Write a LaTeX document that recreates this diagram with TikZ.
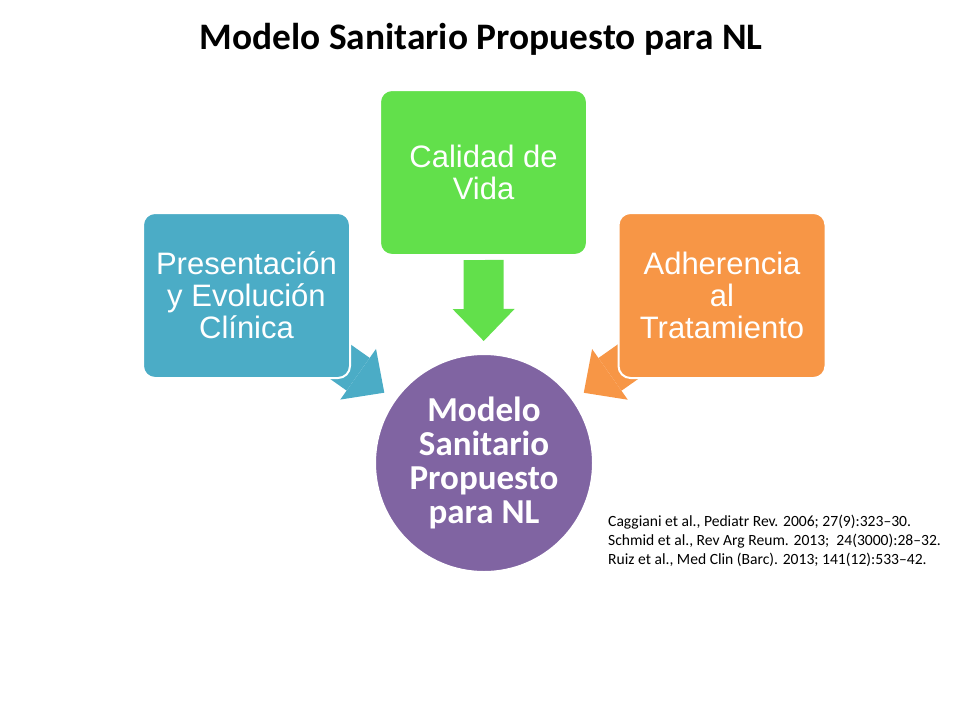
\documentclass[tikz,border=0pt]{standalone}
\usepackage{fontspec}
\setmainfont{Carlito}
\newfontfamily\arialfont{Liberation Sans}
\usetikzlibrary{arrows.meta, positioning, backgrounds}
\definecolor{boxblue}{HTML}{4BACC6}
\definecolor{boxgreen}{HTML}{62E04B}
\definecolor{boxorange}{HTML}{F79646}
\definecolor{circpurple}{HTML}{8064A2}

\begin{document}
\begin{tikzpicture}[x=1pt, y=-1pt,
  topic/.style={draw=white, line width=2pt, rounded corners=12pt, inner sep=0pt,
    minimum width=207pt, minimum height=165pt, align=center, text=white,
    font=\arialfont\fontsize{31}{32}\selectfont},
  bigarrow/.style={line width=40pt, -{Triangle[length=32pt, width=62pt, line width=0pt]},
    shorten >=12pt}]
\useasboundingbox (0,0) rectangle (960,720);
\node (title) at (481,39) {\fontsize{37.4}{40}\selectfont\bfseries Modelo Sanitario Propuesto para NL};

\node (circ) [circle, fill=circpurple, draw=white, line width=2pt, inner sep=0pt,
  minimum size=218pt, align=center, text=white, font=\fontsize{35}{34}\selectfont\bfseries]
  at (484,463) {Modelo\\ Sanitario\\ Propuesto\\ para NL};
\node (green) [topic, fill=boxgreen] at (483.5,172.5) {Calidad de\\ Vida};
\node (blue) [topic, fill=boxblue] at (246.5,295.5) {Presentación\\ y Evolución\\ Clínica};
\node (orange) [topic, fill=boxorange] at (722,295.5) {Adherencia\\ al\\ Tratamiento};

\begin{scope}[on background layer]
\draw[bigarrow, draw=boxgreen, shorten <=4pt] (green.south) -- (circ);
\draw[bigarrow, draw=boxblue] (blue.center) -- (circ);
\draw[bigarrow, draw=boxorange] (orange.center) -- (circ);
\end{scope}

\node (refs) [anchor=north west, align=left, inner sep=0pt, font=\fontsize{15.6}{19}\selectfont]
  at (608,515) {Caggiani et al., Pediatr Rev. 2006; 27(9):323–30.\\
  Schmid et al., Rev Arg Reum. 2013;~ 24(3000):28–32.\\
  Ruiz et al., Med Clin (Barc). 2013; 141(12):533–42.};
\end{tikzpicture}
\end{document}
